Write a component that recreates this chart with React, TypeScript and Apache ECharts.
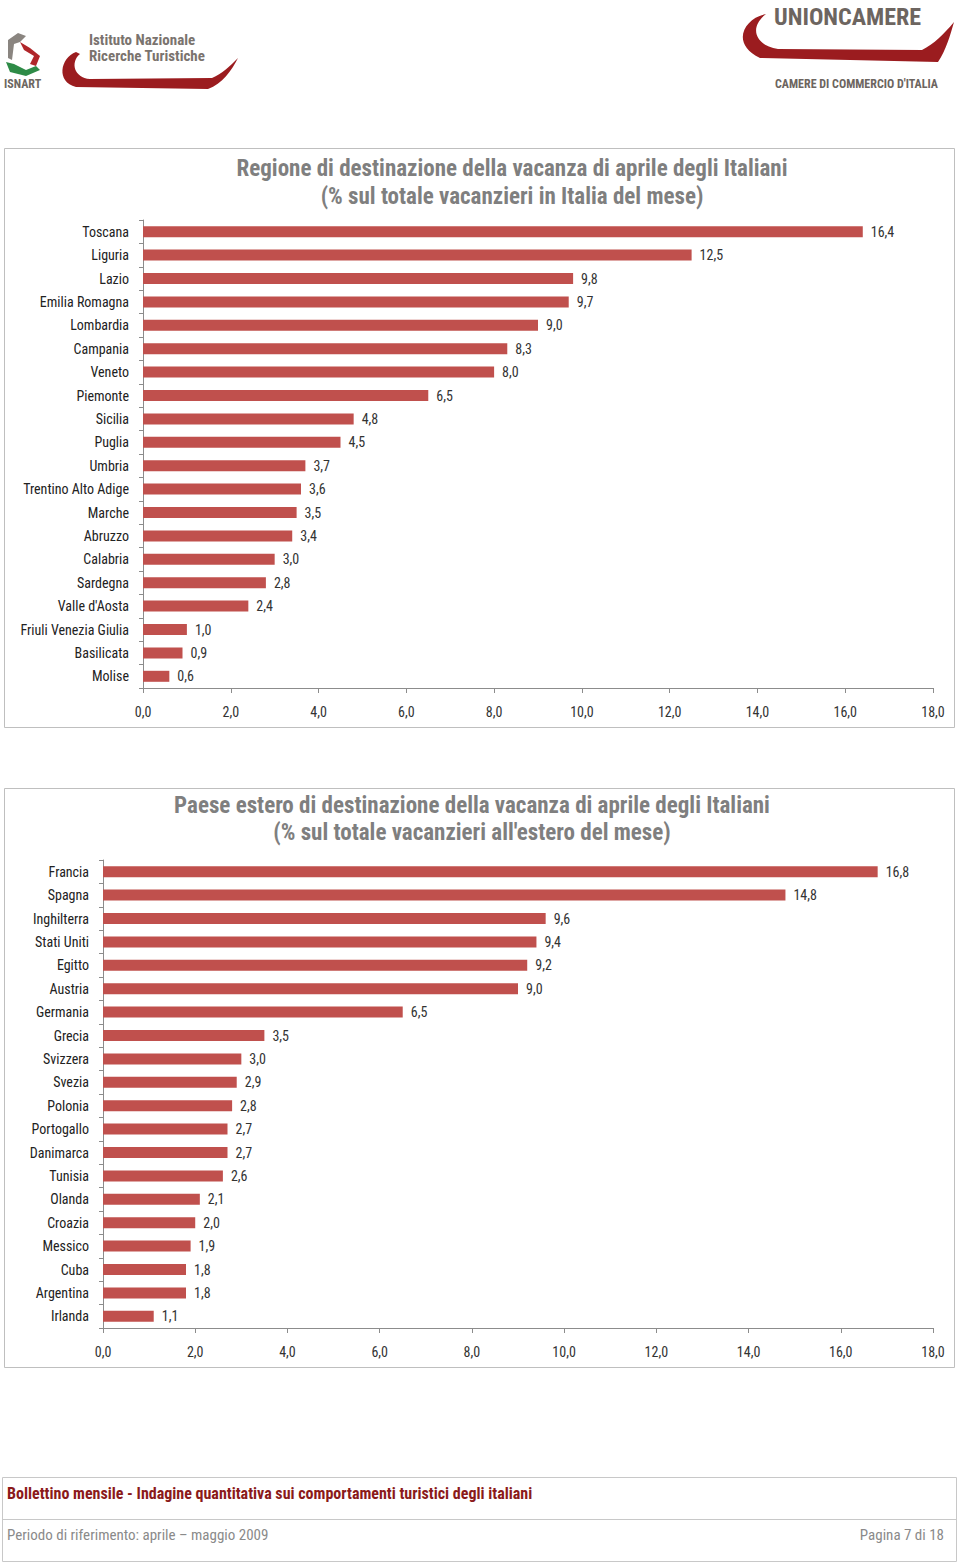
import React, { useEffect, useRef } from "react";
import * as echarts from "echarts";

const regioni = [
  "Toscana", "Liguria", "Lazio", "Emilia Romagna", "Lombardia", "Campania", "Veneto",
  "Piemonte", "Sicilia", "Puglia", "Umbria", "Trentino Alto Adige", "Marche", "Abruzzo",
  "Calabria", "Sardegna", "Valle d'Aosta", "Friuli Venezia Giulia", "Basilicata", "Molise",
];
const regioniValori = [16.4, 12.5, 9.8, 9.7, 9.0, 8.3, 8.0, 6.5, 4.8, 4.5, 3.7, 3.6, 3.5, 3.4, 3.0, 2.8, 2.4, 1.0, 0.9, 0.6];

const paesi = [
  "Francia", "Spagna", "Inghilterra", "Stati Uniti", "Egitto", "Austria", "Germania",
  "Grecia", "Svizzera", "Svezia", "Polonia", "Portogallo", "Danimarca", "Tunisia",
  "Olanda", "Croazia", "Messico", "Cuba", "Argentina", "Irlanda",
];
const paesiValori = [16.8, 14.8, 9.6, 9.4, 9.2, 9.0, 6.5, 3.5, 3.0, 2.9, 2.8, 2.7, 2.7, 2.6, 2.1, 2.0, 1.9, 1.8, 1.8, 1.1];

const title1 = ["Regione di destinazione della vacanza di aprile degli Italiani", "(% sul totale vacanzieri in Italia del mese)"];
const title2 = ["Paese estero di destinazione della vacanza di aprile degli Italiani", "(% sul totale vacanzieri all'estero del mese)"];
const footerTop = "Bollettino mensile - Indagine quantitativa sui comportamenti turistici degli italiani";
const footerLeft = "Periodo di riferimento: aprile \u2013 maggio 2009";
const footerRight = "Pagina 7 di 18";

const NARROW = "'Liberation Sans Narrow', 'Arial Narrow', 'Roboto Condensed', 'Liberation Sans', sans-serif";
const BAR = "#c0504d";
const fmt = (v: number) => v.toFixed(1).replace(".", ",");

echarts.graphic.registerShape(
  "swooshA",
  echarts.graphic.extendPath(
    "M 76 52 C 60 58 56 82 76 87 L 208 89 C 222 84 232 70 238 58 C 230 66 222 74 212 78 L 90 79 C 74 78 70 62 80 54 Z",
    {}
  )
);
echarts.graphic.registerShape(
  "swooshB",
  echarts.graphic.extendPath(
    "M 766 14 C 744 18 730 44 760 58 L 938 62 C 946 50 950 36 954 22 C 944 34 934 44 922 50 L 778 49 C 756 46 748 28 766 14 Z",
    {}
  )
);

function makeAxes(gridIndex: number, cats: string[], vals: number[]) {
  return {
    xAxis: {
      type: "value",
      gridIndex,
      min: 0,
      max: 18,
      interval: 2,
      axisLine: { show: true, lineStyle: { color: "#8c8c8c" } },
      axisTick: { show: true, length: 5, lineStyle: { color: "#8c8c8c" } },
      splitLine: { show: false },
      axisLabel: { formatter: (v: number) => fmt(v), color: "#333", fontSize: 14, fontFamily: NARROW, margin: 17 },
    },
    yAxis: {
      type: "category",
      gridIndex,
      data: cats,
      inverse: true,
      axisLine: { show: true, lineStyle: { color: "#8c8c8c" } },
      axisTick: { show: true, length: 4, lineStyle: { color: "#8c8c8c" } },
      axisLabel: { color: "#222", fontSize: 14, fontFamily: NARROW, margin: 14 },
    },
    series: {
      type: "bar",
      xAxisIndex: gridIndex,
      yAxisIndex: gridIndex,
      data: vals,
      barWidth: 11,
      itemStyle: { color: BAR },
      label: {
        show: true,
        position: "right",
        distance: 8,
        formatter: (p: any) => fmt(p.value),
        color: "#333",
        fontSize: 14,
        fontFamily: NARROW,
      },
    },
  };
}

export default function App() {
  const ref = useRef<HTMLDivElement>(null);
  useEffect(() => {
    if (!ref.current) return;
    const chart = echarts.init(ref.current, null, { renderer: "svg" });
    const a = makeAxes(0, regioni, regioniValori);
    const b = makeAxes(1, paesi, paesiValori);
    const titleStyle = { fill: "#7f7f7f", fontSize: 23, fontWeight: "bold", fontFamily: NARROW, textAlign: "center" };
    chart.setOption({
      animation: false,
      backgroundColor: "#fff",
      grid: [
        { left: 143, width: 790, top: 220, height: 468, containLabel: false },
        { left: 103, width: 830, top: 860, height: 468, containLabel: false },
      ],
      xAxis: [a.xAxis, b.xAxis],
      yAxis: [a.yAxis, b.yAxis],
      series: [a.series, b.series],
      graphic: [
        // chart frames
        { type: "rect", shape: { x: 4.5, y: 148.5, width: 950, height: 579 }, style: { fill: "none", stroke: "#bfbfbf", lineWidth: 1 }, silent: true },
        { type: "rect", shape: { x: 4.5, y: 788.5, width: 950, height: 579 }, style: { fill: "none", stroke: "#bfbfbf", lineWidth: 1 }, silent: true },
        // titles
        { type: "text", x: 512, y: 157, style: { ...titleStyle, text: title1[0] } },
        { type: "text", x: 512, y: 185, style: { ...titleStyle, text: title1[1] } },
        { type: "text", x: 472, y: 794, style: { ...titleStyle, text: title2[0] } },
        { type: "text", x: 472, y: 821, style: { ...titleStyle, text: title2[1] } },
        // ISNART logo
        { type: "polygon", shape: { points: [[8, 40], [18, 33], [26, 36], [20, 42], [14, 44], [12, 60], [8, 58]] }, style: { fill: "#8a8580" } },
        { type: "polygon", shape: { points: [[20, 42], [30, 48], [40, 56], [36, 66], [30, 64], [34, 56], [24, 50]] }, style: { fill: "#b0262a" } },
        { type: "polygon", shape: { points: [[6, 62], [14, 64], [26, 70], [36, 66], [40, 70], [26, 76], [10, 72]] }, style: { fill: "#2e8b47" } },
        { type: "text", x: 4, y: 78, style: { text: "ISNART", fill: "#6d6762", fontSize: 12, fontWeight: "bold", fontFamily: NARROW } },
        { type: "swooshA", style: { fill: "#9b1c1f" } },
        { type: "text", x: 89, y: 32, style: { text: "Istituto Nazionale", fill: "#7a736e", fontSize: 15, fontWeight: "bold", fontFamily: NARROW } },
        { type: "text", x: 89, y: 48, style: { text: "Ricerche Turistiche", fill: "#7a736e", fontSize: 15, fontWeight: "bold", fontFamily: NARROW } },
        // UNIONCAMERE logo
        { type: "swooshB", style: { fill: "#9b1c1f" } },
        { type: "text", x: 774, y: 5, style: { text: "UNIONCAMERE", fill: "#6d6560", fontSize: 24, fontWeight: "bold", fontFamily: NARROW } },
        { type: "text", x: 775, y: 78, style: { text: "CAMERE DI COMMERCIO D'ITALIA", fill: "#6d6560", fontSize: 12, fontWeight: "bold", fontFamily: NARROW } },
        // footer
        { type: "rect", shape: { x: 2.5, y: 1477.5, width: 954, height: 84 }, style: { fill: "none", stroke: "#c8c8c8", lineWidth: 1 }, silent: true },
        { type: "line", shape: { x1: 2.5, y1: 1519.5, x2: 956.5, y2: 1519.5 }, style: { stroke: "#c8c8c8", lineWidth: 1 }, silent: true },
        { type: "text", x: 7, y: 1485, style: { text: footerTop, fill: "#8b1a1a", fontSize: 16, fontWeight: "bold", fontFamily: NARROW } },
        { type: "text", x: 7, y: 1527, style: { text: footerLeft, fill: "#8a8a8a", fontSize: 15, fontFamily: NARROW } },
        { type: "text", x: 944, y: 1527, style: { text: footerRight, fill: "#8a8a8a", fontSize: 15, fontFamily: NARROW, textAlign: "right" } },
      ],
    });
    return () => chart.dispose();
  }, []);
  return (
    <div
      ref={ref}
      style={{ position: "absolute", left: 0, top: 0, width: 960, height: 1562 }}
    />
  );
}
